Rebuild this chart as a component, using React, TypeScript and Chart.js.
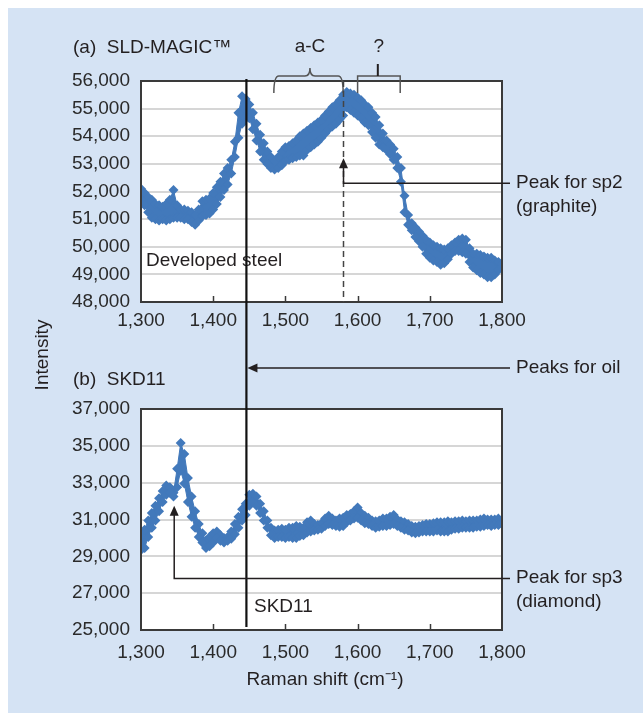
import React, { useEffect, useRef } from 'react';
import { Chart, registerables } from 'chart.js';

Chart.register(...registerables);

// ---------------- data ----------------
const WAVENUMBERS = [
  1300, 1305, 1310, 1315, 1320, 1325, 1330, 1335, 1340, 1345,
  1350, 1355, 1360, 1365, 1370, 1375, 1380, 1385, 1390, 1395,
  1400, 1405, 1410, 1415, 1420, 1425, 1430, 1435, 1440, 1445,
  1450, 1455, 1460, 1465, 1470, 1475, 1480, 1485, 1490, 1495,
  1500, 1505, 1510, 1515, 1520, 1525, 1530, 1535, 1540, 1545,
  1550, 1555, 1560, 1565, 1570, 1575, 1580, 1585, 1590, 1595,
  1600, 1605, 1610, 1615, 1620, 1625, 1630, 1635, 1640, 1645,
  1650, 1655, 1660, 1665, 1670, 1675, 1680, 1685, 1690, 1695,
  1700, 1705, 1710, 1715, 1720, 1725, 1730, 1735, 1740, 1745,
  1750, 1755, 1760, 1765, 1770, 1775, 1780, 1785, 1790, 1795, 1800,
];

// (a) SLD-MAGIC: upper and lower edge of the scattered point cloud
const SLD_UPPER = [
  52100, 51950, 51800, 51700, 51550, 51500, 51450, 51550, 51700, 52050,
  51500, 51350, 51350, 51300, 51250, 51150, 51350, 51650, 51700, 51750,
  51950, 52150, 52350, 52650, 52850, 53150, 53800, 54850, 55450, 55350,
  55150, 54850, 54450, 54050, 53750, 53450, 53250, 53100, 53250, 53450,
  53600, 53650, 53750, 53850, 54000, 54100, 54200, 54300, 54400, 54500,
  54600, 54750, 54900, 55050, 55150, 55300, 55500, 55600, 55550, 55500,
  55400, 55300, 55150, 55050, 54850, 54700, 54400, 54100, 53850, 53700,
  53550, 53250, 52850, 51850, 51150, 50850, 50700, 50550, 50400, 50250,
  50150, 50050, 50000, 49950, 49900, 49950, 50050, 50150, 50250, 50300,
  50250, 49950, 49750, 49750, 49700, 49650, 49600, 49600, 49500, 49450, 49400,
];
const SLD_LOWER = [
  51700, 51500, 51250, 51050, 51000, 50950, 51000, 50950, 51000, 51050,
  51050, 51050, 51000, 51000, 50900, 50800, 50950, 51100, 51150, 51200,
  51350, 51550, 51800, 52050, 52250, 52650, 53250, 53950, 54450, 54650,
  54650, 54250, 53850, 53450, 53150, 53000, 52850, 52800, 52850, 52950,
  53100, 53150, 53200, 53250, 53300, 53300, 53500, 53600, 53700, 53800,
  53950, 54100, 54250, 54350, 54450, 54600, 54750, 55050, 54950, 54850,
  54750, 54650, 54500, 54400, 54150, 53950, 53700, 53600, 53500, 53350,
  53150, 52850, 52350, 51250, 50800, 50600, 50350, 50200, 50000, 49750,
  49600, 49500, 49450, 49350, 49400, 49550, 49750, 49850, 49850, 49800,
  49750, 49450, 49250, 49150, 49050, 49000, 48900, 48900, 49000, 49150, 49250,
];

// (b) SKD11
const SKD_UPPER = [
  30150, 30450, 30950, 31350, 31750, 32150, 32550, 32850, 32750, 32450,
  33750, 35150, 34550, 33250, 32250, 31450, 30750, 30250, 29850, 30050,
  30250, 30350, 30150, 30000, 30050, 30350, 30750, 31150, 31550, 31850,
  32350, 32400, 32250, 31850, 31450, 30950, 30550, 30400, 30450, 30500,
  30450, 30550, 30550, 30650, 30600, 30550, 30850, 30950, 30750, 30700,
  30800, 31050, 31200, 31050, 30950, 31050, 31100, 31250, 31300, 31450,
  31650, 31350, 31200, 31100, 30950, 30900, 30950, 31050, 31050, 31150,
  31250, 31000, 30900, 30850, 30750, 30650, 30600, 30650, 30700, 30750,
  30750, 30800, 30850, 30850, 30850, 30900, 30850, 30900, 30900, 30950,
  30900, 30950, 30950, 30950, 31000, 31050, 31000, 31000, 31000, 31050, 30950,
];
const SKD_LOWER = [
  29350, 29450, 30050, 30550, 30950, 31450, 31950, 32350, 32450, 32250,
  32750, 33650, 32950, 31950, 31150, 30550, 30050, 29750, 29450, 29550,
  29750, 30000, 29850, 29750, 29850, 29950, 30200, 30550, 30950, 31250,
  31750, 31950, 31750, 31350, 30950, 30550, 30150, 30000, 30050, 30050,
  30000, 30050, 30000, 30000, 30100, 30150, 30300, 30350, 30400, 30450,
  30500, 30650, 30750, 30700, 30650, 30600, 30650, 30850, 30950, 31050,
  31100, 30950, 30800, 30750, 30650, 30550, 30600, 30650, 30650, 30700,
  30750, 30650, 30550, 30450, 30400, 30300, 30250, 30300, 30350, 30350,
  30350, 30350, 30400, 30350, 30350, 30350, 30450, 30500, 30500, 30550,
  30550, 30550, 30550, 30600, 30600, 30650, 30700, 30650, 30700, 30700, 30750,
];

const X_RANGE = [1300, 1800];
const X_STEP = 100;
const SLD_RANGE = [48000, 56000];
const SLD_STEP = 1000;
const SKD_RANGE = [25000, 37000];
const SKD_STEP = 2000;

// annotation positions (data units)
const OIL_PEAK = 1446;
const SP2_PEAK = 1580;
const SP2_ARROW = [52300, 53200]; // corner, tip
const SP3_PEAK = 1346;
const SP3_ARROW = [27800, 31750]; // corner, tip
const AC_BRACE = [1484, 1534, 1580]; // start, middle, end
const Q_BRACE = [1600, 1628, 1659];

// ---------------- layout / style ----------------
const W = 635;
const H = 705;
const PLOT_LEFT = 133;
const PLOT_RIGHT = 494;
const A_TOP = 73;
const A_BOTTOM = 294;
const B_TOP = 401;
const B_BOTTOM = 622;
const X_AXIS_H = 40;
const NOTE_X = 502;
const TEXT_X = 508;

const BG = '#d5e3f4';
const DOT = '#4279bb';
const INK = '#231f20';
const FONT_FAMILY = '"Liberation Sans", Arial, Helvetica, sans-serif';
const FS = 19;

const fmt = (v: number | string) => Number(v).toLocaleString('en-US');

function arrowHead(ctx: CanvasRenderingContext2D, x: number, y: number, dir: 'up' | 'left') {
  ctx.beginPath();
  if (dir === 'up') {
    ctx.moveTo(x, y);
    ctx.lineTo(x - 4.5, y + 10);
    ctx.lineTo(x + 4.5, y + 10);
  } else {
    ctx.moveTo(x, y);
    ctx.lineTo(x + 10, y - 4.5);
    ctx.lineTo(x + 10, y + 4.5);
  }
  ctx.closePath();
  ctx.fill();
}

function text(ctx: CanvasRenderingContext2D, s: string, x: number, y: number, align: CanvasTextAlign = 'left') {
  ctx.textAlign = align;
  ctx.textBaseline = 'middle';
  ctx.fillText(s, x, y);
}

const framePlugin = {
  id: 'frame',
  beforeDraw(chart: any) {
    const { ctx, chartArea: a } = chart;
    ctx.save();
    ctx.fillStyle = '#ffffff';
    ctx.fillRect(a.left, a.top, a.right - a.left, a.bottom - a.top);
    ctx.restore();
  },
  afterDatasetsDraw(chart: any) {
    const { ctx, chartArea: a, scales } = chart;
    ctx.save();
    ctx.strokeStyle = '#3a3a3a';
    ctx.lineWidth = 2;
    ctx.strokeRect(a.left, a.top, a.right - a.left, a.bottom - a.top);
    ctx.lineWidth = 1.5;
    scales.x.ticks.forEach((t: any) => {
      if (t.value <= X_RANGE[0] || t.value >= X_RANGE[1]) return;
      const px = Math.round(scales.x.getPixelForValue(t.value)) + 0.5;
      ctx.beginPath();
      ctx.moveTo(px, a.bottom);
      ctx.lineTo(px, a.bottom - 6);
      ctx.stroke();
    });
    ctx.restore();
  },
};

const notesA = {
  id: 'notesA',
  afterDraw(chart: any) {
    const { ctx, chartArea: a, scales } = chart;
    const xs = scales.x;
    const ys = scales.y;
    ctx.save();
    ctx.fillStyle = INK;
    ctx.font = `${FS}px ${FONT_FAMILY}`;
    text(ctx, '(a)  SLD-MAGIC™', 65, 40);
    text(ctx, 'a-C', xs.getPixelForValue(AC_BRACE[1]), 39, 'center');
    text(ctx, '?', xs.getPixelForValue(Q_BRACE[1]) + 1, 39, 'center');
    text(ctx, 'Developed steel', 138, 253);
    text(ctx, 'Peak for sp2', TEXT_X, 175);
    text(ctx, '(graphite)', TEXT_X, 199);
    ctx.save();
    ctx.translate(35, 347);
    ctx.rotate(-Math.PI / 2);
    text(ctx, 'Intensity', 0, 0, 'center');
    ctx.restore();

    // a-C curly brace
    const yb = a.top - 5;
    const ye = a.top + 12;
    const [b0, bm, b1] = AC_BRACE.map((v) => xs.getPixelForValue(v));
    ctx.strokeStyle = '#555';
    ctx.lineWidth = 1.5;
    ctx.beginPath();
    ctx.moveTo(b0, ye);
    ctx.quadraticCurveTo(b0, yb, b0 + 5, yb);
    ctx.lineTo(bm - 5, yb);
    ctx.quadraticCurveTo(bm, yb, bm, yb - 8);
    ctx.quadraticCurveTo(bm, yb, bm + 5, yb);
    ctx.lineTo(b1 - 5, yb);
    ctx.quadraticCurveTo(b1, yb, b1, ye);
    ctx.stroke();

    // "?" bracket
    const [q0, qm, q1] = Q_BRACE.map((v) => xs.getPixelForValue(v));
    ctx.beginPath();
    ctx.moveTo(q0, ye);
    ctx.lineTo(q0, yb);
    ctx.lineTo(q1, yb);
    ctx.lineTo(q1, ye);
    ctx.stroke();
    ctx.strokeStyle = INK;
    ctx.lineWidth = 2;
    ctx.beginPath();
    ctx.moveTo(qm, yb);
    ctx.lineTo(qm, yb - 12);
    ctx.stroke();

    // dashed line at sp2 peak
    const xp = Math.round(xs.getPixelForValue(SP2_PEAK)) + 0.5;
    ctx.strokeStyle = '#444';
    ctx.lineWidth = 1.5;
    ctx.setLineDash([6, 4]);
    ctx.beginPath();
    ctx.moveTo(xp, a.top);
    ctx.lineTo(xp, a.bottom);
    ctx.stroke();
    ctx.setLineDash([]);

    // sp2 arrow
    const yc = ys.getPixelForValue(SP2_ARROW[0]);
    const yt = ys.getPixelForValue(SP2_ARROW[1]);
    ctx.strokeStyle = INK;
    ctx.lineWidth = 1.5;
    ctx.beginPath();
    ctx.moveTo(NOTE_X, yc);
    ctx.lineTo(xp, yc);
    ctx.lineTo(xp, yt + 8);
    ctx.stroke();
    arrowHead(ctx, xp, yt, 'up');
    ctx.restore();
  },
};

const notesB = {
  id: 'notesB',
  afterDraw(chart: any) {
    const { ctx, scales } = chart;
    const xs = scales.x;
    const ys = scales.y;
    ctx.save();
    ctx.fillStyle = INK;
    ctx.font = `${FS}px ${FONT_FAMILY}`;
    text(ctx, '(b)  SKD11', 65, 372);
    text(ctx, 'Peaks for oil', TEXT_X, 360);
    text(ctx, 'Peak for sp3', TEXT_X, 570);
    text(ctx, '(diamond)', TEXT_X, 594);
    text(ctx, 'SKD11', 246, 599);
    text(ctx, 'Raman shift (cm⁻¹)', 317, 672, 'center');

    // vertical line: peaks for oil, spanning both panels
    const xo = xs.getPixelForValue(OIL_PEAK);
    ctx.strokeStyle = '#111';
    ctx.lineWidth = 2.2;
    ctx.beginPath();
    ctx.moveTo(xo, A_TOP - 2);
    ctx.lineTo(xo, B_BOTTOM - 3);
    ctx.stroke();

    // oil arrow
    ctx.lineWidth = 1.5;
    ctx.strokeStyle = INK;
    ctx.beginPath();
    ctx.moveTo(NOTE_X, 360);
    ctx.lineTo(xo + 9, 360);
    ctx.stroke();
    arrowHead(ctx, xo + 1, 360, 'left');

    // sp3 arrow
    const x3 = xs.getPixelForValue(SP3_PEAK);
    const yc = ys.getPixelForValue(SP3_ARROW[0]);
    const yt = ys.getPixelForValue(SP3_ARROW[1]);
    ctx.beginPath();
    ctx.moveTo(NOTE_X, yc);
    ctx.lineTo(x3, yc);
    ctx.lineTo(x3, yt + 8);
    ctx.stroke();
    arrowHead(ctx, x3, yt, 'up');
    ctx.restore();
  },
};

function bandDatasets(lower: number[], upper: number[]) {
  const common = {
    borderColor: DOT,
    backgroundColor: DOT,
    pointBackgroundColor: DOT,
    pointBorderWidth: 0,
    pointStyle: 'rectRot',
    pointRadius: 5,
    borderWidth: 1,
    tension: 0,
  };
  return [
    { ...common, data: WAVENUMBERS.map((x, i) => ({ x, y: lower[i] })), fill: false },
    { ...common, data: WAVENUMBERS.map((x, i) => ({ x, y: upper[i] })), fill: '-1' },
  ];
}

function makeConfig(
  lower: number[],
  upper: number[],
  yRange: number[],
  yStep: number,
  top: number,
  bottom: number,
  labelPad: number,
  notes: any,
): any {
  const tickFont = { family: FONT_FAMILY, size: FS };
  return {
    type: 'line',
    data: { datasets: bandDatasets(lower, upper) },
    options: {
      responsive: false,
      animation: false,
      devicePixelRatio: 1,
      events: [],
      layout: {
        padding: { left: 0, right: W - PLOT_RIGHT, top, bottom: H - bottom - X_AXIS_H },
      },
      plugins: { legend: { display: false }, tooltip: { enabled: false } },
      scales: {
        x: {
          type: 'linear',
          min: X_RANGE[0],
          max: X_RANGE[1],
          ticks: {
            stepSize: X_STEP,
            callback: fmt,
            font: tickFont,
            color: '#2a2a2a',
            padding: labelPad,
            maxRotation: 0,
            autoSkip: false,
          },
          grid: { display: false, drawTicks: false },
          border: { display: false },
          afterFit: (s: any) => {
            s.height = X_AXIS_H;
          },
        },
        y: {
          type: 'linear',
          min: yRange[0],
          max: yRange[1],
          ticks: { stepSize: yStep, callback: fmt, font: tickFont, color: '#2a2a2a', padding: 11 },
          grid: { color: '#d6d6d6', lineWidth: 2, drawTicks: false },
          border: { display: false },
          afterFit: (s: any) => {
            s.width = PLOT_LEFT;
          },
        },
      },
    },
    plugins: [framePlugin, notes],
  };
}

export default function App() {
  const refA = useRef<HTMLCanvasElement>(null);
  const refB = useRef<HTMLCanvasElement>(null);

  useEffect(() => {
    const a = new Chart(
      refA.current as HTMLCanvasElement,
      makeConfig(SLD_LOWER, SLD_UPPER, SLD_RANGE, SLD_STEP, A_TOP, A_BOTTOM, 7, notesA),
    );
    const b = new Chart(
      refB.current as HTMLCanvasElement,
      makeConfig(SKD_LOWER, SKD_UPPER, SKD_RANGE, SKD_STEP, B_TOP, B_BOTTOM, 11, notesB),
    );
    return () => {
      a.destroy();
      b.destroy();
    };
  }, []);

  const canvasStyle: React.CSSProperties = {
    position: 'absolute',
    left: 0,
    top: 0,
    width: W,
    height: H,
  };

  return (
    <div style={{ position: 'absolute', left: 8, top: 8, width: W, height: H, background: BG }}>
      <canvas ref={refA} width={W} height={H} style={canvasStyle} />
      <canvas ref={refB} width={W} height={H} style={canvasStyle} />
    </div>
  );
}
